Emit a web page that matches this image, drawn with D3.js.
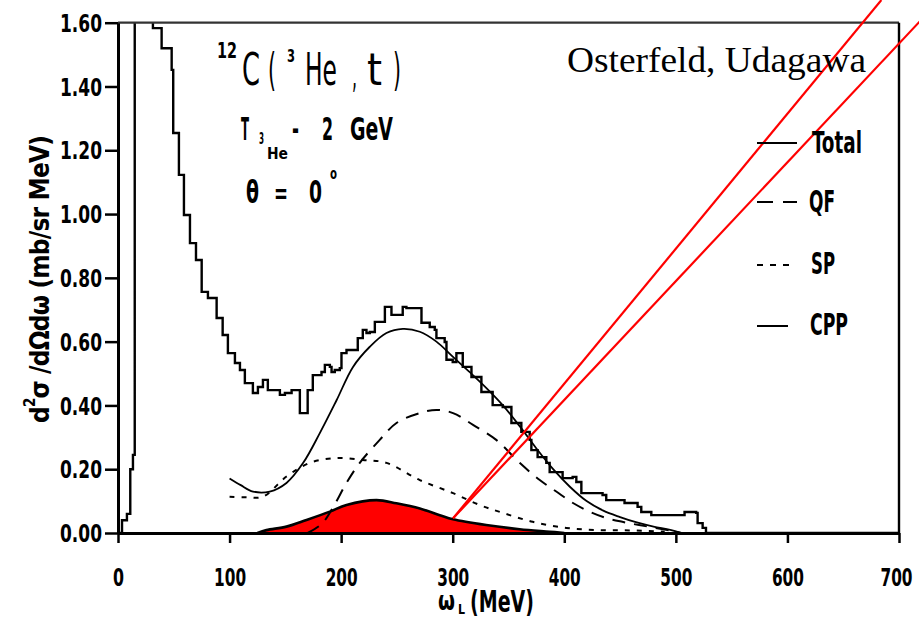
<!DOCTYPE html>
<html><head><meta charset="utf-8">
<script src="https://cdn.jsdelivr.net/npm/d3@7"></script>
<style>body{margin:0;background:#fff}svg{display:block}</style>
</head><body><svg id="c" width="919" height="618"></svg>
<script>
// ---------- data ----------
const xTicks = [0,100,200,300,400,500,600,700];
const xTickLabels = ["0","100","200","300","400","500","600","700"];
const yTicks = [0,0.2,0.4,0.6,0.8,1.0,1.2,1.4,1.6];
const yTickLabels = ["0.00","0.20","0.40","0.60","0.80","1.00","1.20","1.40","1.60"];

// experimental histogram (step left edges, values)
const histX = [0,3.6,8,11,13.4,15,31.3,39.1,48.1,49.5,54.6,59.1,64.5,69.9,75,80.6,88.4,93.8,98.5,104.8,109.3,113.7,120.9,125.4,129.9,134.3,145.1,149.6,155.6,163,170,174.6,182.4,185.4,189.9,191.4,194.3,198.8,200.3,204.8,214.9,219.4,222.7,225.7,230.2,239.2,245.1,255.2,258.5,272,279.4,283.9,285.4,292.8,294.4,300,303.3,309,316.8,325.7,335.8,344.8,352.6,361.5,369,370.5,376.1,383.9,386.9,398.5,407.5,410.8,415.3,434.3,437.6,454,465.7,469,478,507.8,518.2,519.5,524,527,700];
const histY = [0,0.04,0.06,0.2,0.245,1.9,1.583,1.52,1.452,1.254,1.123,0.997,0.909,0.856,0.756,0.737,0.674,0.621,0.564,0.533,0.511,0.470,0.439,0.458,0.480,0.448,0.433,0.439,0.448,0.376,0.448,0.495,0.505,0.527,0.521,0.505,0.511,0.517,0.564,0.574,0.611,0.637,0.627,0.630,0.662,0.709,0.684,0.709,0.705,0.659,0.646,0.637,0.611,0.599,0.543,0.536,0.564,0.521,0.489,0.442,0.401,0.395,0.345,0.317,0.292,0.260,0.238,0.220,0.191,0.172,0.176,0.160,0.125,0.119,0.103,0.094,0.082,0.066,0.056,0.066,0.063,0.031,0.016,0,0];

// theory: Total
const totalX = [100,110,121,136,151,166,181,196,210.5,225.7,240.6,255.3,270.5,285.4,300,315,330,345,360,375,390,405,420,435,450,465,480,495,505];
const totalY = [0.171,0.15,0.13,0.13,0.157,0.22,0.314,0.417,0.52,0.584,0.627,0.64,0.631,0.6,0.553,0.505,0.455,0.40,0.335,0.265,0.20,0.145,0.10,0.07,0.05,0.033,0.02,0.01,0];
// QF
const qfX = [170,183,193,204.8,216.7,234.6,249.6,270.5,285.4,300.3,318.2,339,360,378,392.8,407.8,422.7,437.7,452,467,482,497,505];
const qfY = [0,0.03,0.082,0.157,0.22,0.292,0.345,0.376,0.386,0.376,0.339,0.292,0.22,0.166,0.13,0.094,0.067,0.047,0.035,0.025,0.016,0.006,0];
// SP
const spX = [100,115,130,151,172,196,219.4,240.6,270.5,300.3,324,345,371.7,401.8,431.7,461,490];
const spY = [0.114,0.112,0.114,0.177,0.22,0.235,0.229,0.22,0.166,0.125,0.088,0.063,0.035,0.016,0.009,0.008,0.004];
// CPP
const cppX = [125,133,151,169,189.9,204.8,231.7,249.6,270.5,288.4,300.3,330,360,387,400];
const cppY = [0,0.009,0.02,0.041,0.067,0.088,0.103,0.093,0.077,0.056,0.043,0.025,0.012,0.004,0];

// red annotation lines (data coordinates: x1,y1,x2,y2)
const redLines = [[300.3,0.046,684.2,1.671],[300.3,0.046,736.6,1.671]];

const legendNames = ["Total","QF","SP","CPP"];
const legendDash = [null,"16,10","6,7",null];

// ---------- drawing ----------
const svg = d3.select("#c");
const FONT = "'Liberation Sans Narrow','Arial Narrow','DejaVu Sans Condensed',sans-serif";
const x = d3.scaleLinear().domain([0,700]).range([118,899]);
const y = d3.scaleLinear().domain([0,1.6]).range([533,22.7]);

svg.append("defs").append("clipPath").attr("id","clip")
  .append("rect").attr("x",x(0)).attr("y",y(1.6)).attr("width",x(700)-x(0)).attr("height",y(0)-y(1.6));

const plot = svg.append("g").attr("clip-path","url(#clip)");

const zip = (a,b)=>a.map((v,i)=>[v,b[i]]);
const smooth = d3.line().x(d=>x(d[0])).y(d=>y(d[1])).curve(d3.curveCatmullRom.alpha(0.5));

// CPP filled
plot.append("path").datum(zip(cppX,cppY))
  .attr("d", d3.area().x(d=>x(d[0])).y0(y(0)).y1(d=>y(d[1])).curve(d3.curveCatmullRom.alpha(0.5)))
  .attr("fill","#ff0000");
plot.append("path").datum(zip(cppX,cppY)).attr("d",smooth)
  .attr("fill","none").attr("stroke","#000").attr("stroke-width",2.6);

// theory lines
plot.append("path").datum(zip(totalX,totalY)).attr("d",smooth)
  .attr("fill","none").attr("stroke","#000").attr("stroke-width",1.8);
plot.append("path").datum(zip(qfX,qfY)).attr("d",smooth)
  .attr("fill","none").attr("stroke","#000").attr("stroke-width",2).attr("stroke-dasharray","13,9");
plot.append("path").datum(zip(spX,spY)).attr("d",smooth)
  .attr("fill","none").attr("stroke","#000").attr("stroke-width",2).attr("stroke-dasharray","5,7");

// histogram
plot.append("path").datum(zip(histX,histY))
  .attr("d", d3.line().x(d=>x(d[0])).y(d=>y(d[1])).curve(d3.curveStepAfter))
  .attr("fill","none").attr("stroke","#000").attr("stroke-width",2.4);

// frame (top and right)
svg.append("line").attr("x1",x(0)).attr("x2",x(700)).attr("y1",y(1.6)).attr("y2",y(1.6))
  .attr("stroke","#333").attr("stroke-width",2.2);
svg.append("line").attr("x1",x(700)).attr("x2",x(700)).attr("y1",y(1.6)).attr("y2",y(0))
  .attr("stroke","#000").attr("stroke-width",2.4);

// axes
const gx = svg.append("g").attr("transform",`translate(0,${y(0)})`)
  .call(d3.axisBottom(x).tickValues(xTicks).tickSize(10).tickSizeOuter(0).tickPadding(26)
        .tickFormat((d,i)=>xTickLabels[i]));
const gy = svg.append("g").attr("transform",`translate(${x(0)},0)`)
  .call(d3.axisLeft(y).tickValues(yTicks).tickSize(13).tickSizeOuter(0).tickPadding(3)
        .tickFormat((d,i)=>yTickLabels[i]));
[gx,gy].forEach(g=>{
  g.select(".domain").attr("stroke","#000").attr("stroke-width",3);
  g.selectAll(".tick line").attr("stroke","#000").attr("stroke-width",2.5);
  g.selectAll(".tick text").attr("fill","#000").style("font-family",FONT)
    .style("font-weight","bold").style("font-size","24px")
    .attr("textLength",function(){ return this.textContent.length===1 ? 11 : (this.textContent.length===3 ? 32 : 42); })
    .attr("lengthAdjust","spacingAndGlyphs");
});
gy.selectAll(".tick text").attr("dy","0.36em");
gx.selectAll(".tick text").filter(d=>d===700).attr("x",-3);

// red lines (not clipped)
svg.selectAll("line.red").data(redLines).join("line").attr("class","red")
  .attr("x1",d=>x(d[0])).attr("y1",d=>y(d[1])).attr("x2",d=>x(d[2])).attr("y2",d=>y(d[3]))
  .attr("stroke","#ff0000").attr("stroke-width",2.2);

// ---------- texts ----------
function txt(s,px,py,size,opts={}){
  const t = svg.append("text").attr("x",px).attr("y",py).text(s)
    .style("font-family",opts.family||FONT).style("font-size",size+"px")
    .style("font-weight",opts.weight||"bold").attr("fill","#000");
  if(opts.len) t.attr("textLength",opts.len).attr("lengthAdjust","spacingAndGlyphs");
  if(opts.anchor) t.attr("text-anchor",opts.anchor);
  return t;
}
// 12C(3He,t)
txt("12",217,58,21,{len:20});
txt("C",242,85,44,{len:18,weight:"normal"});
txt("(",268,85,44,{len:8,weight:"normal"});
txt("3",287,62,18,{len:8});
txt("He",305,85,44,{len:32,weight:"normal"});
txt(",",352,88,38,{len:5,weight:"normal"});
txt("t",367,85,44,{len:15,weight:"normal"});
txt(")",393,85,44,{len:8,weight:"normal"});
// T3He - 2 GeV
txt("T",241,140,32,{len:8});
txt("3",259,144,15,{len:5});
txt("He",267,159,16,{len:21});
txt("-",292,140,32,{len:7});
txt("2",322,140,32,{len:11});
txt("GeV",350,140,32,{len:43});
// theta = 0
txt("θ",246,203,32,{len:13});
txt("=",274,203,28,{len:14});
txt("0",309,203,32,{len:13});
txt("o",330,179,16,{len:7});

// author
txt("Osterfeld, Udagawa",567,72,36,{family:"'Liberation Serif','Times New Roman',serif",weight:"normal",len:299});

// legend
const legY = [143,202,265,326];
const legEnd = [797,797,789,788];
legendNames.forEach((n,i)=>{
  svg.append("line").attr("x1",757).attr("x2",legEnd[i]).attr("y1",legY[i]).attr("y2",legY[i])
    .attr("stroke","#000").attr("stroke-width",2).attr("stroke-dasharray",legendDash[i]);
});
txt("Total",812,153,30,{len:50});
txt("QF",809,212,30,{len:26});
txt("SP",811,274,30,{len:24});
txt("CPP",810,335,30,{len:38});

// x axis title
txt("ω",438,610,26,{len:17});
txt("L",458,614,14,{len:7});
txt("(MeV)",470,612,30,{len:64});

// y axis title
const yt = svg.append("text").attr("transform","translate(49,279) rotate(-90)")
  .attr("text-anchor","middle").style("font-family",FONT).style("font-weight","bold")
  .style("font-size","26px").attr("fill","#000")
  .attr("textLength",288).attr("lengthAdjust","spacing");
yt.append("tspan").text("d");
yt.append("tspan").text("2").attr("dy",-14).style("font-size","15px");
yt.append("tspan").text("σ /dΩdω  (mb/sr MeV)").attr("dy",14);
</script></body></html>
